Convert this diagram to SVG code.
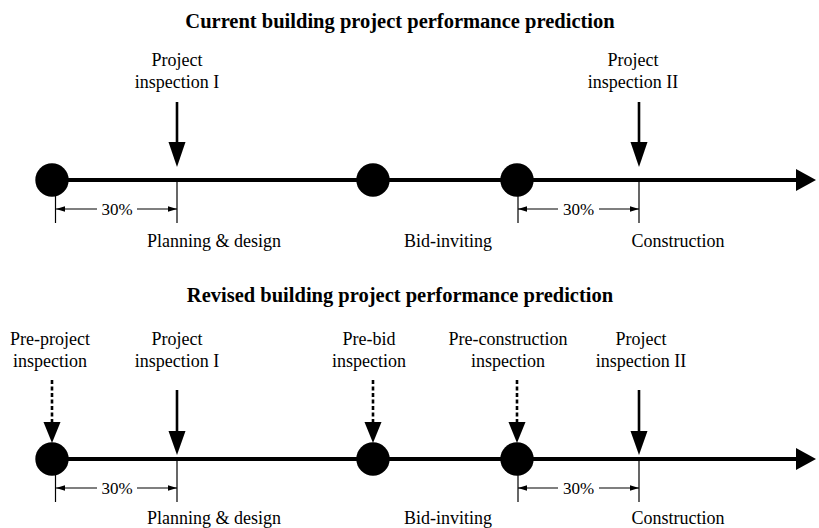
<svg xmlns="http://www.w3.org/2000/svg" width="819" height="528" viewBox="0 0 819 528">
<defs>
<style>
.t{font-family:"Liberation Serif","Times New Roman",serif;font-size:18px;fill:#000;text-anchor:middle}
.title{font-weight:bold;font-size:20.5px}
.pct{font-size:17px}
.axis{stroke:#000;stroke-width:4;fill:none}
.ms{fill:#000}
.tick{stroke:#000;stroke-width:1.2}
.dim{stroke:#000;stroke-width:1.2;fill:none}
.arr{stroke:#000;stroke-width:2.6}
.darr{stroke:#000;stroke-width:2.6;stroke-dasharray:4 2.5}
.head{fill:#000}
</style>
<marker id="ah" viewBox="0 0 10 6" refX="10" refY="3" markerWidth="9" markerHeight="6" markerUnits="userSpaceOnUse" orient="auto"><path d="M0,0 L10,3 L0,6z" fill="#000"/></marker>
</defs>
<rect width="819" height="528" fill="#fff"/>

<text class="t title" x="400" y="28">Current building project performance prediction</text>
<text class="t title" x="400" y="302">Revised building project performance prediction</text>

<g id="connectors">
  <!-- top axis -->
  <line class="axis" x1="52" y1="180" x2="798" y2="180"/>
  <polygon class="head" points="796,169 816,180 796,191"/>
  <!-- bottom axis -->
  <line class="axis" x1="52" y1="459" x2="798" y2="459"/>
  <polygon class="head" points="796,448 816,459 796,470"/>
  <!-- top inspection arrows -->
  <line class="arr" x1="177" y1="102" x2="177" y2="145"/>
  <polygon class="head" points="168.5,142 185.5,142 177,167"/>
  <line class="arr" x1="639" y1="102" x2="639" y2="145"/>
  <polygon class="head" points="630.5,142 647.5,142 639,167"/>
  <!-- bottom solid arrows -->
  <line class="arr" x1="177" y1="390" x2="177" y2="434"/>
  <polygon class="head" points="168.5,431 185.5,431 177,455"/>
  <line class="arr" x1="639" y1="390" x2="639" y2="434"/>
  <polygon class="head" points="630.5,431 647.5,431 639,455"/>
  <!-- bottom dotted arrows -->
  <line class="darr" x1="52" y1="380" x2="52" y2="424"/>
  <polygon class="head" points="43.5,422 60.5,422 52,443"/>
  <line class="darr" x1="373" y1="380" x2="373" y2="424"/>
  <polygon class="head" points="364.5,422 381.5,422 373,443"/>
  <line class="darr" x1="517" y1="380" x2="517" y2="424"/>
  <polygon class="head" points="508.5,422 525.5,422 517,443"/>
</g>

<g id="milestones-top">
  <circle class="ms" cx="52" cy="180" r="16.7"/>
  <circle class="ms" cx="373" cy="180" r="16.7"/>
  <circle class="ms" cx="517" cy="180" r="16.7"/>
</g>
<g id="milestones-bottom">
  <circle class="ms" cx="52" cy="459" r="16.7"/>
  <circle class="ms" cx="373" cy="459" r="16.7"/>
  <circle class="ms" cx="517" cy="459" r="16.7"/>
</g>

<g id="dimensions">
  <line class="tick" x1="55.5" y1="180" x2="55.5" y2="223"/>
  <line class="tick" x1="177" y1="180" x2="177" y2="223"/>
  <line class="tick" x1="518" y1="180" x2="518" y2="223"/>
  <line class="tick" x1="639" y1="180" x2="639" y2="223"/>
  <path class="dim" d="M97,209 H56" marker-end="url(#ah)"/>
  <path class="dim" d="M137,209 H177" marker-end="url(#ah)"/>
  <path class="dim" d="M558,209 H518" marker-end="url(#ah)"/>
  <path class="dim" d="M599,209 H639" marker-end="url(#ah)"/>
  <text class="t pct" x="117" y="214.5">30%</text>
  <text class="t pct" x="578.5" y="214.5">30%</text>

  <line class="tick" x1="55.5" y1="459" x2="55.5" y2="502"/>
  <line class="tick" x1="177" y1="459" x2="177" y2="502"/>
  <line class="tick" x1="518" y1="459" x2="518" y2="502"/>
  <line class="tick" x1="639" y1="459" x2="639" y2="502"/>
  <path class="dim" d="M97,488 H56" marker-end="url(#ah)"/>
  <path class="dim" d="M137,488 H177" marker-end="url(#ah)"/>
  <path class="dim" d="M558,488 H518" marker-end="url(#ah)"/>
  <path class="dim" d="M599,488 H639" marker-end="url(#ah)"/>
  <text class="t pct" x="117" y="493.5">30%</text>
  <text class="t pct" x="578.5" y="493.5">30%</text>
</g>

<g id="labels-top">
  <text class="t" x="177" y="66">Project</text>
  <text class="t" x="177" y="88">inspection I</text>
  <text class="t" x="633" y="66">Project</text>
  <text class="t" x="633" y="88">inspection II</text>
  <text class="t" x="214" y="247">Planning &amp; design</text>
  <text class="t" x="448" y="247">Bid-inviting</text>
  <text class="t" x="678" y="247">Construction</text>
</g>

<g id="labels-bottom">
  <text class="t" x="50" y="345">Pre-project</text>
  <text class="t" x="50" y="367">inspection</text>
  <text class="t" x="177" y="345">Project</text>
  <text class="t" x="177" y="367">inspection I</text>
  <text class="t" x="369" y="345">Pre-bid</text>
  <text class="t" x="369" y="367">inspection</text>
  <text class="t" x="508" y="345">Pre-construction</text>
  <text class="t" x="508" y="367">inspection</text>
  <text class="t" x="641" y="345">Project</text>
  <text class="t" x="641" y="367">inspection II</text>
  <text class="t" x="214" y="524">Planning &amp; design</text>
  <text class="t" x="448" y="524">Bid-inviting</text>
  <text class="t" x="678" y="524">Construction</text>
</g>
</svg>
